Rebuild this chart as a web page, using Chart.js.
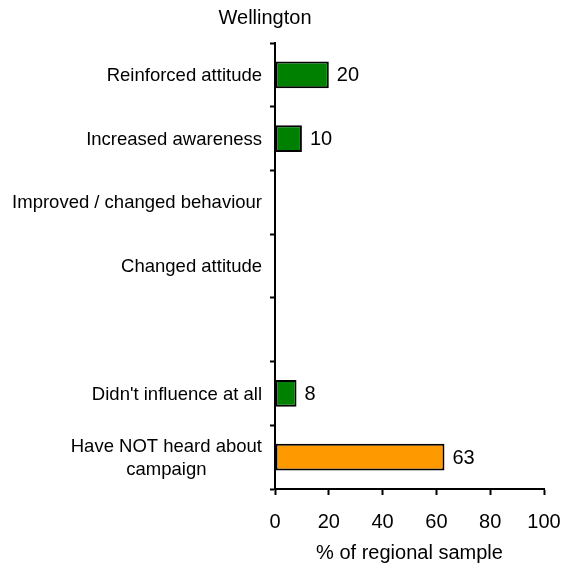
<!DOCTYPE html>
<html>
<head>
<meta charset="utf-8">
<script src="https://cdn.jsdelivr.net/npm/chart.js@4"></script>
<style>
    html, body { margin: 0; padding: 0; background: #fff; }
    #wrap { width: 567px; height: 570px; }
</style>
</head>
<body>
<div id="wrap"><canvas id="campaign-chart" width="567" height="570"></canvas></div>
<script>
const chartTitle = "Wellington";
const categories = [
    "Reinforced attitude",
    "Increased awareness",
    "Improved / changed behaviour",
    "Changed attitude",
    "",
    "Didn't influence at all",
    ["Have NOT heard about", "campaign"],
];
const values = [20, 10, null, null, null, 8, 63];
const xTicks = [0, 20, 40, 60, 80, 100];
const xTitle = "% of regional sample";

(function () {
    const ctx = document.getElementById('campaign-chart');
    const fontFamily = '"Liberation Sans", Arial, sans-serif';
    const green = "#008000";
    const orange = "#FF9900";

    Chart.defaults.font.family = fontFamily;
    Chart.defaults.color = '#000';

    // title, category labels (multi-line ones centred) and value labels
    const textLayer = {
        id: 'textLayer',
        afterDraw(chart) {
            const c = chart.ctx;
            const yScale = chart.scales.y;
            const meta = chart.getDatasetMeta(0);
            c.save();
            c.fillStyle = '#000';

            c.font = `20px ${fontFamily}`;
            c.textAlign = 'center';
            c.textBaseline = 'middle';
            c.fillText(chartTitle, 265, 18);

            c.font = `18.5px ${fontFamily}`;
            const rightX = yScale.right - 13;
            const lineH = 23;
            categories.forEach((label, i) => {
                const lines = Array.isArray(label) ? label : [label];
                const y = yScale.getPixelForTick(i);
                const widest = Math.max(...lines.map(l => c.measureText(l).width));
                const cx = rightX - widest / 2;
                lines.forEach((l, k) => {
                    c.fillText(l, cx, y + 1 + (k - (lines.length - 1) / 2) * lineH);
                });
            });

            c.font = `20px ${fontFamily}`;
            c.textAlign = 'left';
            meta.data.forEach((bar, i) => {
                const v = values[i];
                if (v === null) return;
                c.fillText(String(v), bar.x + 8, bar.y + 1);
            });
            c.restore();
        }
    };

    new Chart(ctx, {
        type: 'bar',
        data: {
            labels: categories,
            datasets: [{
                data: values,
                backgroundColor: values.map((v, i) => i === values.length - 1 ? orange : green),
                borderColor: '#000',
                borderWidth: 2,
                borderSkipped: false,
                categoryPercentage: 1.0,
                barPercentage: 0.42,
            }],
        },
        options: {
            indexAxis: 'y',
            responsive: false,
            animation: false,
            layout: {
                padding: { left: 0, right: 0, top: 43, bottom: 0 },
            },
            scales: {
                x: {
                    min: 0,
                    max: 100,
                    afterFit: scale => {
                        scale.height = 81;
                        // keep the plot's right edge at x=544
                        scale.paddingLeft = 0;
                        scale.paddingRight = 23;
                    },
                    afterBuildTicks: scale => {
                        scale.ticks = xTicks.map(v => ({ value: v }));
                    },
                    ticks: {
                        font: { size: 20 },
                        padding: 15,
                        maxRotation: 0,
                    },
                    grid: {
                        drawOnChartArea: false,
                        tickLength: 6,
                        tickWidth: 2,
                        tickColor: '#000',
                    },
                    border: { color: '#000', width: 2 },
                    title: {
                        display: true,
                        text: xTitle,
                        font: { size: 20 },
                        padding: { top: 0, bottom: 5 },
                    },
                },
                y: {
                    afterFit: scale => { scale.width = 275; },
                    ticks: {
                        color: 'rgba(0,0,0,0)', // drawn by textLayer
                        font: { size: 18 },
                        padding: 8,
                        autoSkip: false,
                    },
                    grid: {
                        offset: true,
                        drawOnChartArea: false,
                        tickLength: 5,
                        tickWidth: 2,
                        tickColor: '#000',
                    },
                    border: { color: '#000', width: 2 },
                },
            },
            plugins: {
                legend: { display: false },
                tooltip: { enabled: false },
                title: { display: false },
            },
        },
        plugins: [textLayer],
    });
})();
</script>
</body>
</html>
